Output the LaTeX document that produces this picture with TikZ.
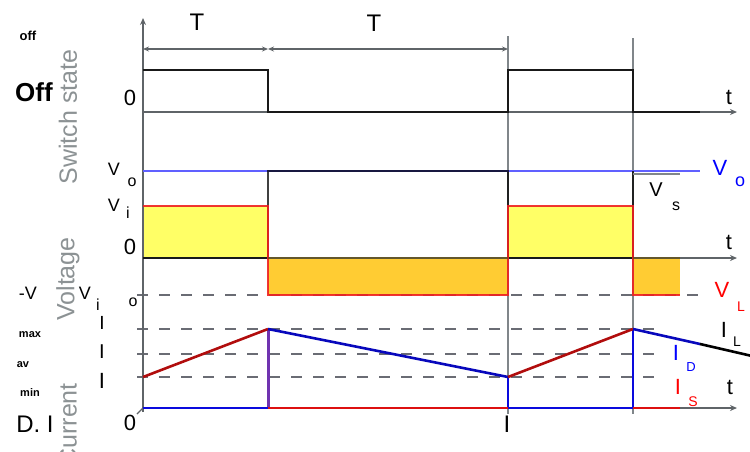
\documentclass[tikz,border=0pt]{standalone}
\usepackage{fontspec}
\setmainfont{Liberation Sans}
\usetikzlibrary{arrows.meta}
\definecolor{axgray}{HTML}{5F6468}
\definecolor{gridg}{HTML}{80868A}
\definecolor{dashg}{HTML}{6A6C74}
\definecolor{lblg}{HTML}{8C9294}
\definecolor{yel}{HTML}{FFFF66}
\definecolor{org}{HTML}{FFCC33}
\definecolor{vred}{HTML}{EE2020}
\definecolor{vblue}{HTML}{6060FF}
\definecolor{iblue}{HTML}{0A0ADD}
\definecolor{ired}{HTML}{DD1010}
\definecolor{ipurp}{HTML}{7033B0}
\begin{document}
\begin{tikzpicture}[x=1pt,y=-1pt,
  txt/.style={inner sep=0pt, font=\fontsize{#1}{#1}\selectfont},
  btxt/.style={inner sep=0pt, font=\fontsize{#1}{#1}\selectfont\bfseries},
  axisline/.style={draw=axgray, line width=2pt},
  tarrow/.style={axisline, -{Stealth[length=7pt,width=6pt]}},
  gridline/.style={draw=gridg, line width=2pt},
  dashline/.style={draw=dashg, line width=1.8pt, dash pattern=on 11pt off 11pt},
  wave/.style={line width=2.6pt, line join=miter},
  dimarrow/.style={draw=axgray, line width=1.5pt, {Stealth[length=6pt,width=5pt]}-{Stealth[length=6pt,width=5pt]}}
]
\useasboundingbox (0,0) rectangle (750,451);
% fills
\fill[yel] (143,206) rectangle (268,258);
\fill[yel] (508,206) rectangle (633,258);
\fill[org] (268,258) rectangle (508,295);
\fill[org] (633,258) rectangle (680,295);
% grid verticals
\draw[gridline] (508,36) -- (508,414);
\draw[gridline] (633,38) -- (633,414);
% dashed levels
\draw[dashline] (137,295) -- (700,295);
\draw[dashline] (137,329) -- (662,329);
\draw[dashline] (137,354) -- (662,354);
\draw[dashline] (137,377) -- (662,377);
% axes
\coordinate (ytop) at (143,18);
\coordinate (ybot) at (143,412);
\draw[axisline, -{Stealth[length=7pt,width=6pt]}] (ybot) -- (ytop);
\coordinate (s0) at (143,112); \coordinate (s1) at (737,112);
\draw[tarrow] (s0) -- (s1);
\coordinate (v0) at (143,258); \coordinate (v1) at (737,258);
\draw[tarrow] (v0) -- (v1);
\coordinate (i0) at (143,408); \coordinate (i1) at (737,408);
\draw[tarrow] (i0) -- (i1);
\draw[draw=axgray, line width=1.2pt] (143,408) -- (137,414);
% dimension arrows
\coordinate (d0) at (143,49); \coordinate (d1) at (268,49); \coordinate (d2) at (508,49);
\draw[dimarrow] (d0) -- (d1);
\draw[dimarrow] (d1) -- (d2);
% switch state
\draw[wave, draw=black!90] (143,70) -- (268,70) -- (268,112) -- (508,112) -- (508,70) -- (633,70) -- (633,112) -- (700,112);
% voltages
\draw[wave, draw=vblue, line width=2.4pt] (143,171) -- (700,171);
\draw[wave, draw=black, opacity=0.75] (143,258) -- (268,258) -- (268,171) -- (508,171) -- (508,258) -- (633,258) -- (633,171);
\draw[draw=gridg, line width=2pt] (633,173.5) -- (680,173.5);
\draw[wave, draw=vred, opacity=0.9, line width=2.2pt] (143,206) -- (268,206) -- (268,295) -- (508,295) -- (508,206) -- (633,206) -- (633,295) -- (680,295);
\draw[draw=black!60!org, line width=1.5pt, opacity=0.7] (268,258) -- (508,258) (633,258) -- (680,258);
% currents
\draw[wave, draw=ipurp, line width=3pt] (268,329) -- (268,408);
\draw[wave, draw=iblue] (508,377) -- (508,408);
\draw[wave, draw=iblue] (633,329) -- (633,408);
\draw[wave, draw=iblue] (143,408) -- (268,408);
\draw[wave, draw=ired] (268,408) -- (508,408);
\draw[wave, draw=iblue] (508,408) -- (633,408);
\draw[wave, draw=ired] (633,408) -- (680,408);
\draw[wave, draw=ired!80!black] (143,377) -- (268,329);
\draw[wave, draw=iblue!85!black] (268,329) -- (508,377);
\draw[wave, draw=ired!80!black] (508,377) -- (633,329);
\draw[wave, draw=iblue!85!black] (633,329) -- (700,344);
\draw[wave, draw=black] (700,344) -- (752,356);
% axis titles
\node[txt=25, text=lblg, rotate=90] (tsw) at (68,117) {Switch state};
\node[txt=25, text=lblg, rotate=90] (tvolt) at (68,279) {Voltage};
\node[txt=25, text=lblg, rotate=90, anchor=east] (tcur) at (68,383) {Current};
% left labels
\node[btxt=13] (loff) at (28,36) {off};
\node[btxt=26] (lOff) at (34,92) {Off};
\node[txt=22] (lz1) at (130,98) {0};
\node[txt=18] (lvo) at (114,169) {V};
\node[txt=16] (lvos) at (132,182) {o};
\node[txt=18] (lvi) at (114,205) {V};
\node[txt=16] (lvis) at (128,213) {i};
\node[txt=22] (lz2) at (130,247) {0};
\node[txt=18] (lmv) at (28,293) {-V};
\node[txt=18] (lvi2) at (85,293) {V};
\node[txt=16] (lvi2s) at (98,305) {i};
\node[txt=16] (lvos2) at (133,302) {o};
\node[btxt=11] (lmax) at (30,335) {max};
\node[btxt=11] (lav) at (23,365) {av};
\node[btxt=11] (lmin) at (30,393) {min};
\node[txt=19] (li1) at (102,323) {I};
\node[txt=20] (li2) at (102,352) {I};
\node[txt=22] (li3) at (102,381) {I};
\node[txt=24] (ldi) at (35,424) {D. I};
\node[txt=22] (lz3) at (130,423) {0};
\node[txt=24] (ldt) at (507,424) {I};
% top labels
\node[txt=24] (T1) at (197,22) {T};
\node[txt=24] (T2) at (374,23) {T};
% right labels
\node[txt=22] (t1) at (729,97) {t};
\node[txt=22] (t2) at (729,242) {t};
\node[txt=22] (t3) at (730,387) {t};
\node[txt=22, text=blue] (rvo) at (720,168) {V};
\node[txt=18, text=blue] (rvos) at (740,182) {o};
\node[txt=20] (rvs) at (656,190) {V};
\node[txt=16] (rvss) at (676,206) {s};
\node[txt=22, text=red] (rvl) at (722,290) {V};
\node[txt=14, text=red] (rvls) at (741,307) {L};
\node[txt=22] (ril) at (724,330) {I};
\node[txt=14] (rils) at (737,342) {L};
\node[txt=22, text=blue] (rid) at (676,353) {I};
\node[txt=13, text=blue] (rids) at (691,367) {D};
\node[txt=22, text=red] (ris) at (678,387) {I};
\node[txt=14, text=red] (riss) at (693,402) {S};
\end{tikzpicture}
\end{document}
